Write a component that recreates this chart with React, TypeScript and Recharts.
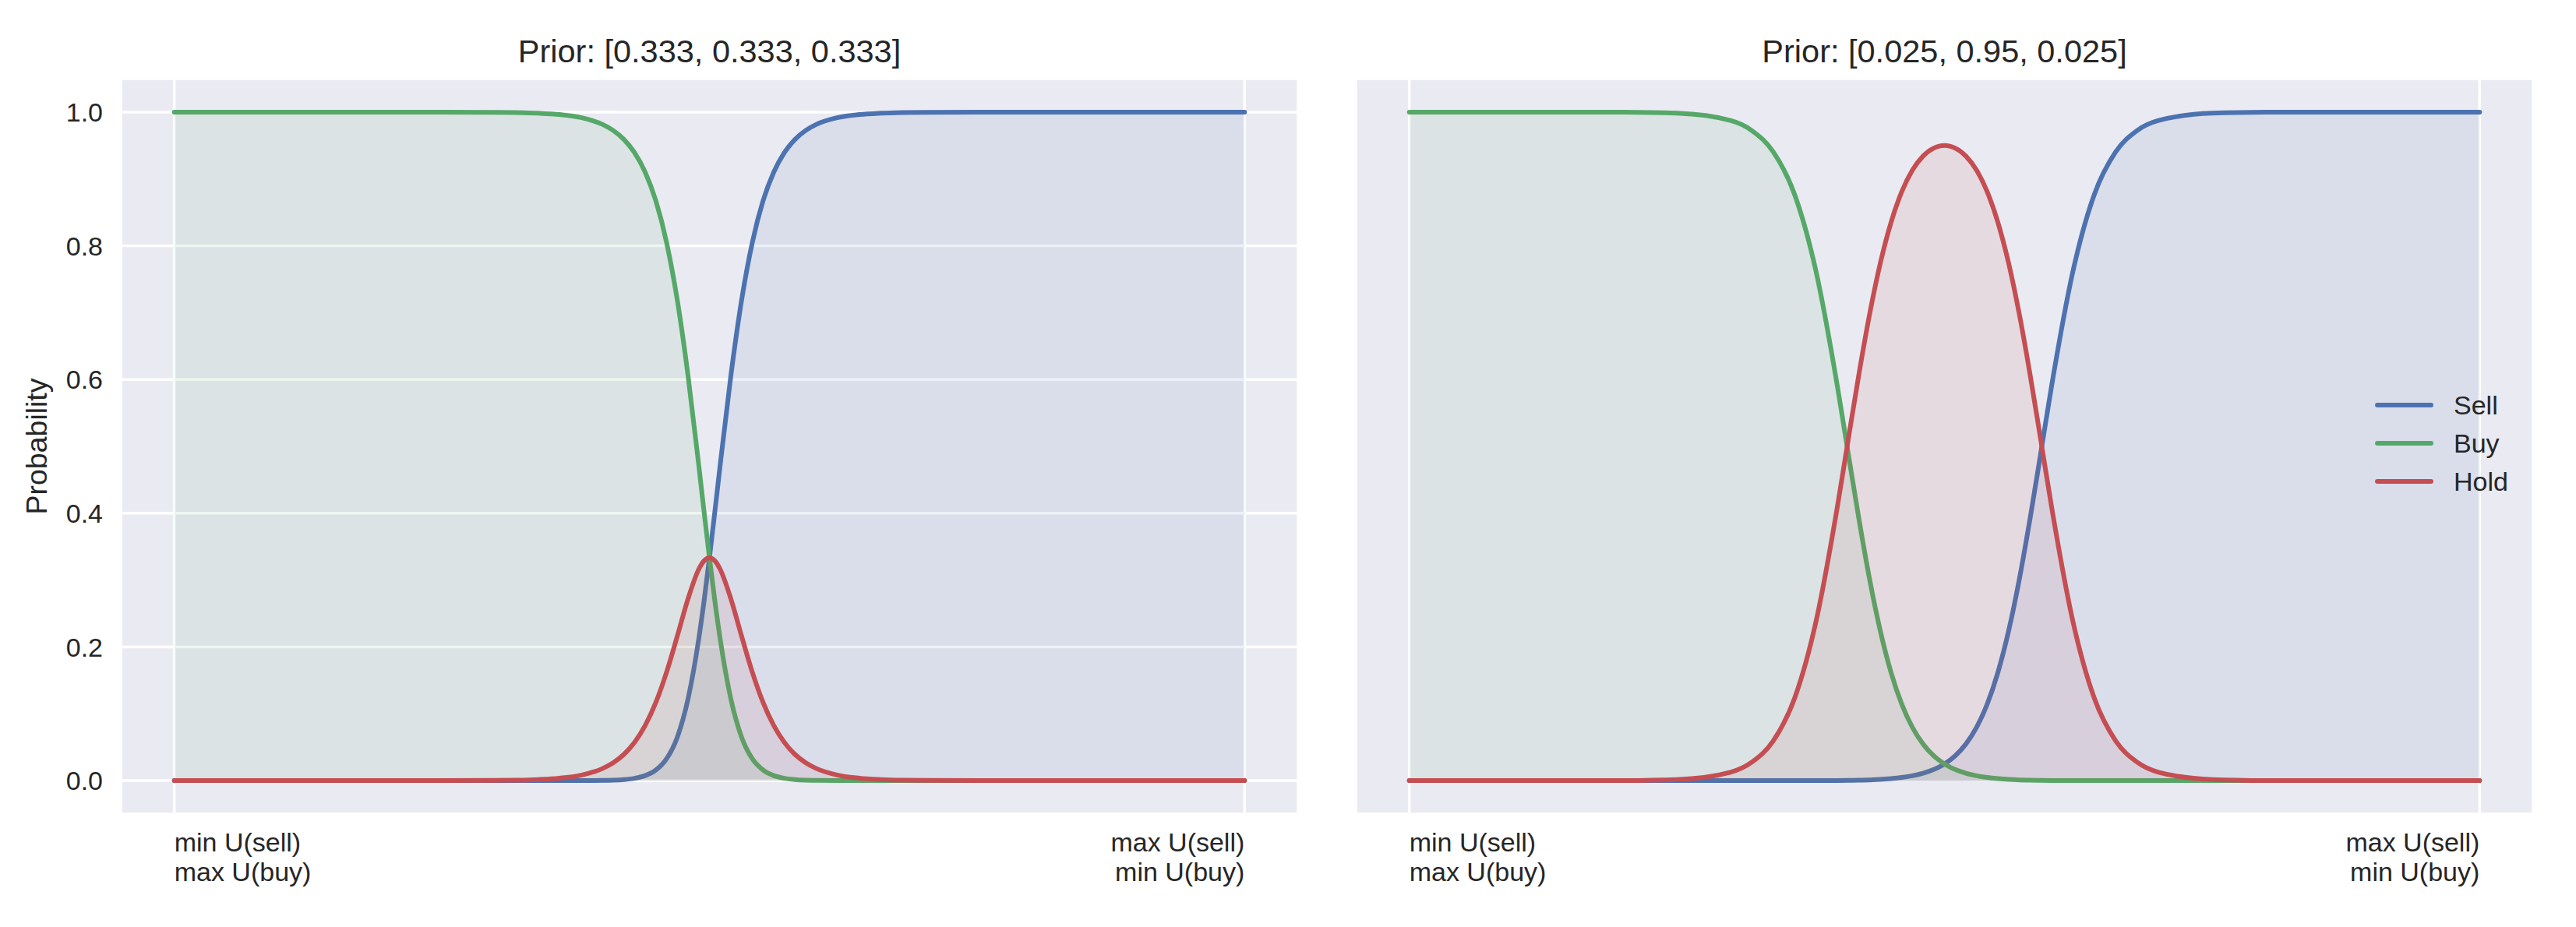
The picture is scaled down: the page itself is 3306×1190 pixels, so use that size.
import {
  ComposedChart,
  Area,
  XAxis,
  YAxis,
  CartesianGrid,
  Legend,
  Label,
} from "recharts";

// position along the utility axis (0 = min U(sell), 1 = max U(sell))
const utility = [
  0, 0.05, 0.1, 0.15, 0.2, 0.25, 0.3, 0.32, 0.34, 0.36, 0.38, 0.4, 0.41, 0.42,
  0.43, 0.44, 0.45, 0.46, 0.47, 0.48, 0.49, 0.495, 0.5, 0.505, 0.51, 0.52, 0.53,
  0.54, 0.55, 0.56, 0.57, 0.58, 0.59, 0.6, 0.62, 0.64, 0.66, 0.68, 0.7, 0.75,
  0.8, 0.85, 0.9, 0.95, 1,
];

// left panel, prior [0.333, 0.333, 0.333]
const evenSell = [
  0, 0, 0, 0, 0, 0, 0, 0, 0, 0, 0.0001, 0.0003, 0.0007, 0.0016, 0.0035, 0.0075,
  0.0159, 0.0328, 0.0652, 0.1223, 0.212, 0.2693, 0.3333, 0.4018, 0.4718, 0.6056,
  0.7184, 0.8047, 0.8668, 0.9099, 0.9394, 0.9593, 0.9727, 0.9817, 0.9918,
  0.9963, 0.9983, 0.9993, 0.9997, 1, 1, 1, 1, 1, 1,
];
const evenBuy = [
  1, 1, 1, 1, 1, 1, 0.9997, 0.9993, 0.9983, 0.9963, 0.9918, 0.9817, 0.9727,
  0.9593, 0.9394, 0.9099, 0.8668, 0.8047, 0.7184, 0.6056, 0.4718, 0.4018,
  0.3333, 0.2693, 0.212, 0.1223, 0.0652, 0.0328, 0.0159, 0.0075, 0.0035, 0.0016,
  0.0007, 0.0003, 0.0001, 0, 0, 0, 0, 0, 0, 0, 0, 0, 0,
];
const evenHold = [
  0, 0, 0, 0, 0, 0, 0.0003, 0.0007, 0.0017, 0.0037, 0.0082, 0.018, 0.0266,
  0.0391, 0.0571, 0.0826, 0.1173, 0.1625, 0.2164, 0.2721, 0.3162, 0.3289,
  0.3333, 0.3289, 0.3162, 0.2721, 0.2164, 0.1625, 0.1173, 0.0826, 0.0571,
  0.0391, 0.0266, 0.018, 0.0082, 0.0037, 0.0017, 0.0007, 0.0003, 0, 0, 0, 0, 0,
  0,
];

// right panel, prior [0.025, 0.95, 0.025]
const skewSell = [
  0, 0, 0, 0, 0, 0, 0, 0, 0, 0, 0.0001, 0.0002, 0.0004, 0.0007, 0.0011, 0.0018,
  0.003, 0.0047, 0.0072, 0.011, 0.0167, 0.0204, 0.025, 0.0305, 0.0371, 0.0547,
  0.0798, 0.1148, 0.1623, 0.2244, 0.3017, 0.3921, 0.4904, 0.5895, 0.7617,
  0.8768, 0.9406, 0.9724, 0.9874, 0.9983, 0.9998, 1, 1, 1, 1,
];
const skewBuy = [
  1, 1, 1, 1, 0.9998, 0.9983, 0.9874, 0.9724, 0.9406, 0.8768, 0.7617, 0.5895,
  0.4904, 0.3921, 0.3017, 0.2244, 0.1623, 0.1148, 0.0798, 0.0547, 0.0371,
  0.0305, 0.025, 0.0204, 0.0167, 0.011, 0.0072, 0.0047, 0.003, 0.0018, 0.0011,
  0.0007, 0.0004, 0.0002, 0.0001, 0, 0, 0, 0, 0, 0, 0, 0, 0, 0,
];
const skewHold = [
  0, 0, 0, 0, 0.0002, 0.0017, 0.0126, 0.0276, 0.0594, 0.1232, 0.2382, 0.4103,
  0.5092, 0.6073, 0.6972, 0.7737, 0.8347, 0.8806, 0.913, 0.9342, 0.9462, 0.949,
  0.95, 0.949, 0.9462, 0.9342, 0.913, 0.8806, 0.8347, 0.7737, 0.6972, 0.6073,
  0.5092, 0.4103, 0.2382, 0.1232, 0.0594, 0.0276, 0.0126, 0.0017, 0.0002, 0, 0,
  0, 0,
];

const seriesKeys = ["sell", "buy", "hold"];
const seriesNames = ["Sell", "Buy", "Hold"];
const seriesColors = ["#4C72B0", "#55A868", "#C44E52"];
const probTicks = [0, 0.2, 0.4, 0.6, 0.8, 1.0];
const utilityTicks = [0, 1];
const utilityTickLabels = [
  ["min U(sell)", "max U(buy)"],
  ["max U(sell)", "min U(buy)"],
];

const INK = "#262626";
const FONT = '"Liberation Sans", Arial, Helvetica, sans-serif';

const toRows = (sell: number[], buy: number[], hold: number[]) =>
  utility.map((u, i) => ({ u, sell: sell[i], buy: buy[i], hold: hold[i] }));

const UtilityTick = (props: any) => {
  const { x, y, payload } = props;
  const atMin = payload.value === 0;
  const lines = atMin ? utilityTickLabels[0] : utilityTickLabels[1];
  return (
    <text
      x={x}
      y={y}
      textAnchor={atMin ? "start" : "end"}
      fill={INK}
      fontSize={34}
    >
      <tspan x={x} dy={48}>
        {lines[0]}
      </tspan>
      <tspan x={x} dy={38}>
        {lines[1]}
      </tspan>
    </text>
  );
};

const renderYLabel = (props: any) => {
  const vb = props.viewBox;
  const cx = vb.x + 5;
  const cy = vb.y + vb.height / 2;
  return (
    <text
      x={cx}
      y={cy}
      transform={`rotate(-90 ${cx} ${cy})`}
      textAnchor="middle"
      fill={INK}
      fontSize={37.5}
    >
      Probability
    </text>
  );
};

const renderLegend = (props: any) => {
  const items = [...(props.payload || [])].sort(
    (a: any, b: any) => seriesNames.indexOf(a.value) - seriesNames.indexOf(b.value)
  );
  return (
    <div>
      {items.map((item: any) => (
        <div
          key={item.value}
          style={{ display: "flex", alignItems: "center", height: 49 }}
        >
          <svg width={75} height={10} style={{ display: "block" }}>
            <line
              x1={3}
              x2={72}
              y1={5}
              y2={5}
              stroke={item.color}
              strokeWidth={6}
              strokeLinecap="round"
            />
          </svg>
          <span
            style={{
              marginLeft: 26,
              fontSize: 34,
              lineHeight: "49px",
              color: INK,
            }}
          >
            {item.value}
          </span>
        </div>
      ))}
    </div>
  );
};

interface PanelProps {
  title: string;
  rows: ReturnType<typeof toRows>;
  left: number;
  width: number;
  marginLeft: number;
  marginRight: number;
  showY: boolean;
  showLegend: boolean;
}

function Panel({
  title,
  rows,
  left,
  width,
  marginLeft,
  marginRight,
  showY,
  showLegend,
}: PanelProps) {
  const yWidth = showY ? 100 : 0;
  const plotLeft = marginLeft + yWidth;
  const plotWidth = width - plotLeft - marginRight;
  return (
    <div style={{ position: "absolute", left, top: 0, width, height: 1190 }}>
      <div
        style={{
          position: "absolute",
          left: plotLeft,
          top: 45,
          width: plotWidth,
          textAlign: "center",
          fontSize: 41.5,
          lineHeight: "41px",
          color: INK,
          whiteSpace: "nowrap",
        }}
      >
        {title}
      </div>
      <ComposedChart
        width={width}
        height={1190}
        data={rows}
        margin={{ top: 101, right: marginRight, bottom: 45, left: marginLeft }}
      >
        <CartesianGrid
          fill="#EAEAF2"
          stroke="#FFFFFF"
          strokeWidth={3.5}
          vertical
          horizontal
        />
        <XAxis
          dataKey="u"
          type="number"
          domain={[-0.05, 1.05]}
          ticks={utilityTicks}
          tick={<UtilityTick />}
          tickSize={0}
          tickMargin={0}
          axisLine={false}
          tickLine={false}
          height={100}
          allowDataOverflow
        />
        <YAxis
          type="number"
          domain={[-0.05, 1.05]}
          ticks={probTicks}
          tick={showY ? { fill: INK, fontSize: 34 } : false}
          tickFormatter={(v) => Number(v).toFixed(1)}
          tickSize={0}
          tickMargin={23}
          axisLine={false}
          tickLine={false}
          width={yWidth}
          allowDataOverflow
        >
          {showY && <Label content={renderYLabel} />}
        </YAxis>
        {seriesKeys.map((key, i) => (
          <Area
            key={key}
            type="monotone"
            dataKey={key}
            name={seriesNames[i]}
            stroke={seriesColors[i]}
            strokeWidth={6}
            strokeLinecap="round"
            strokeLinejoin="round"
            fill={seriesColors[i]}
            fillOpacity={0.1}
            baseValue={0}
            dot={false}
            activeDot={false}
            isAnimationActive={false}
          />
        ))}
        {showLegend && (
          <Legend
            layout="vertical"
            align="center"
            verticalAlign="middle"
            content={renderLegend}
            wrapperStyle={{ left: 1348, top: 495.5, width: "auto" }}
          />
        )}
      </ComposedChart>
    </div>
  );
}

export default function App() {
  return (
    <div
      style={{
        position: "fixed",
        left: 0,
        top: 0,
        width: 3306,
        height: 1190,
        background: "#FFFFFF",
        fontFamily: FONT,
      }}
    >
      <Panel
        title="Prior: [0.333, 0.333, 0.333]"
        rows={toRows(evenSell, evenBuy, evenHold)}
        left={0}
        width={1700}
        marginLeft={55}
        marginRight={34}
        showY
        showLegend={false}
      />
      <Panel
        title="Prior: [0.025, 0.95, 0.025]"
        rows={toRows(skewSell, skewBuy, skewHold)}
        left={1700}
        width={1606}
        marginLeft={40}
        marginRight={55}
        showY={false}
        showLegend
      />
    </div>
  );
}
